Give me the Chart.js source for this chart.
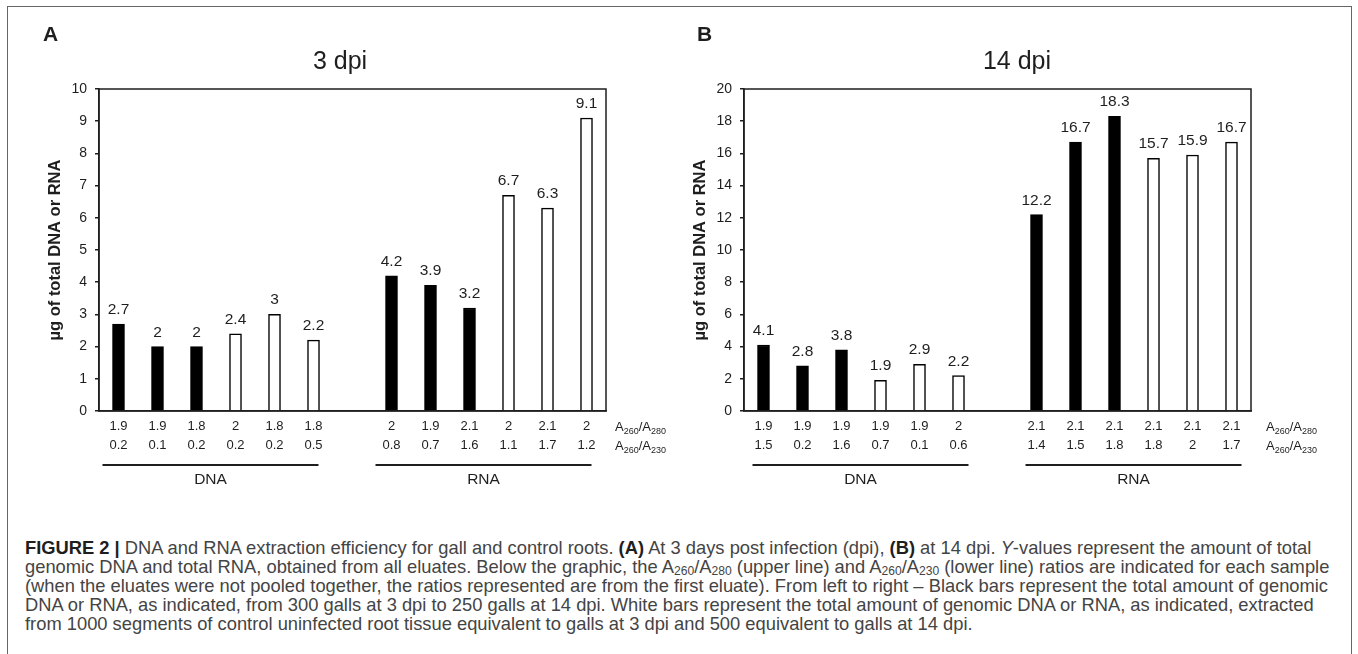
<!DOCTYPE html>
<html>
<head>
<meta charset="utf-8">
<script src="https://cdn.jsdelivr.net/npm/chart.js@4.4.0/dist/chart.umd.min.js"></script>
<style>
  html, body { margin: 0; padding: 0; background: #fff; }
  body { width: 1358px; height: 654px; position: relative; overflow: hidden; font-family: "Liberation Sans", Arial, sans-serif; }
  #frame { position: absolute; left: 7px; top: 6px; width: 1345px; height: 700px; border: 1.5px solid #666; box-sizing: border-box; }
  .panel { position: absolute; top: 0; }
  #panelA { left: 0; }
  #panelB { left: 679px; }
  #caption { position: absolute; left: 25px; top: 538px; font-size: 15px; line-height: 19px; color: #444; white-space: nowrap; }
  #caption b { color: #1e1e1e; }
  #caption sub { font-size: 0.66em; vertical-align: -0.2em; line-height: 0; }
</style>
</head>
<body>
<div id="frame"></div>
<div class="panel" id="panelA"><canvas id="chartA" width="679" height="510"></canvas></div>
<div class="panel" id="panelB"><canvas id="chartB" width="679" height="510"></canvas></div>
<div id="caption">
  <div><b>FIGURE 2 |</b> DNA and RNA extraction efficiency for gall and control roots. <b>(A)</b> At 3 days post infection (dpi), <b>(B)</b> at 14 dpi. <i>Y</i>-values represent the amount of total</div>
  <div id="capLine2">genomic DNA and total RNA, obtained from all eluates. Below the graphic, the A<sub>260</sub>/A<sub>280</sub> (upper line) and A<sub>260</sub>/A<sub>230</sub> (lower line) ratios are indicated for each sample</div>
  <div>(when the eluates were not pooled together, the ratios represented are from the first eluate). From left to right – Black bars represent the total amount of genomic</div>
  <div>DNA or RNA, as indicated, from 300 galls at 3 dpi to 250 galls at 14 dpi. White bars represent the total amount of genomic DNA or RNA, as indicated, extracted</div>
  <div>from 1000 segments of control uninfected root tissue equivalent to galls at 3 dpi and 500 equivalent to galls at 14 dpi.</div>
</div>
<script>
// sample type per slot ('' = empty gap slot between DNA and RNA)
const sampleKind = ['gall', 'gall', 'gall', 'ctrl', 'ctrl', 'ctrl', '', 'gall', 'gall', 'gall', 'ctrl', 'ctrl', 'ctrl'];
const groups = [
    {name: 'DNA', from: 0, to: 5},
    {name: 'RNA', from: 7, to: 12},
];

// 3 dpi
const values3 = [2.7, 2, 2, 2.4, 3, 2.2, null, 4.2, 3.9, 3.2, 6.7, 6.3, 9.1];
const r280_3 = ['1.9', '1.9', '1.8', '2', '1.8', '1.8', '', '2', '1.9', '2.1', '2', '2.1', '2'];
const r230_3 = ['0.2', '0.1', '0.2', '0.2', '0.2', '0.5', '', '0.8', '0.7', '1.6', '1.1', '1.7', '1.2'];
const yTicks3 = {max: 10, step: 1};

// 14 dpi
const values14 = [4.1, 2.8, 3.8, 1.9, 2.9, 2.2, null, 12.2, 16.7, 18.3, 15.7, 15.9, 16.7];
const r280_14 = ['1.9', '1.9', '1.9', '1.9', '1.9', '2', '', '2.1', '2.1', '2.1', '2.1', '2.1', '2.1'];
const r230_14 = ['1.5', '0.2', '1.6', '0.7', '0.1', '0.6', '', '1.4', '1.5', '1.8', '1.8', '2', '1.7'];
const yTicks14 = {max: 20, step: 2};

const FONT = '"Liberation Sans", Arial, sans-serif';
const INK = '#1e1e1e';

function drawRatioName(ctx, x, y, sub1, sub2) {
    const parts = [['A', 0], [sub1, 1], ['/A', 0], [sub2, 1]];
    ctx.textBaseline = 'alphabetic';
    ctx.textAlign = 'left';
    for (const [txt, isSub] of parts) {
        ctx.font = (isSub ? '9px ' : '13px ') + FONT;
        ctx.fillText(txt, x, y + (isSub ? 2.5 : 0));
        x += ctx.measureText(txt).width;
    }
}

const annotate = {
    id: 'annotate',
    afterDraw(chart, args, opts) {
        const {ctx, chartArea: a, scales: {x}} = chart;
        ctx.save();
        ctx.fillStyle = INK;
        ctx.strokeStyle = INK;

        // box round the plot
        ctx.lineWidth = 1.5;
        ctx.strokeRect(a.left, a.top, a.right - a.left, a.bottom - a.top);

        // value labels on bars
        ctx.font = '15.5px ' + FONT;
        ctx.textAlign = 'center';
        ctx.textBaseline = 'alphabetic';
        chart.getDatasetMeta(0).data.forEach((bar, i) => {
            const v = chart.data.datasets[0].data[i];
            if (v === null) return;
            ctx.fillText(String(v), bar.x, bar.y - 10);
        });

        // panel letter and title
        ctx.font = 'bold 21px ' + FONT;
        ctx.textAlign = 'left';
        ctx.fillText(opts.letter, opts.letterX, 41);
        ctx.font = '25px ' + FONT;
        ctx.textAlign = 'center';
        ctx.fillText(opts.title, opts.titleX, 69);

        // y axis title
        ctx.save();
        ctx.translate(opts.yTitleX, (a.top + a.bottom) / 2);
        ctx.rotate(-Math.PI / 2);
        ctx.font = 'bold 16.5px ' + FONT;
        ctx.textBaseline = 'middle';
        ctx.fillText('µg of total DNA or RNA', 0, 0);
        ctx.restore();

        // ratio row names
        drawRatioName(ctx, a.right + opts.ratioGap, a.bottom + 20, '260', '280');
        drawRatioName(ctx, a.right + opts.ratioGap, a.bottom + 39, '260', '230');

        // group lines and names
        ctx.lineWidth = 2;
        ctx.font = '15.5px ' + FONT;
        ctx.textAlign = 'center';
        ctx.textBaseline = 'middle';
        for (const g of groups) {
            const x0 = x.getPixelForValue(g.from) - opts.lineIn;
            const x1 = x.getPixelForValue(g.to) + opts.lineOut;
            ctx.beginPath();
            ctx.moveTo(x0, a.bottom + 54);
            ctx.lineTo(x1, a.bottom + 54);
            ctx.stroke();
            ctx.fillText(g.name, (x0 + x1) / 2, a.bottom + 69);
        }
        ctx.restore();
    }
};

function makeChart(id, values, r280, r230, yTicks, opts) {
    const labels = r280.map((v, i) => [v, r230[i]]);
    return new Chart(document.getElementById(id).getContext('2d'), {
        type: 'bar',
        data: {
            labels: labels,
            datasets: [{
                data: values,
                backgroundColor: sampleKind.map(k => k === 'gall' ? '#000' : '#fff'),
                borderColor: '#000',
                borderWidth: 1.5,
                barThickness: 12,
            }]
        },
        options: {
            responsive: false,
            animation: false,
            layout: {padding: {top: 89, right: opts.padRight, left: 0, bottom: 0}},
            plugins: {
                legend: {display: false},
                tooltip: {enabled: false},
                annotate: opts,
            },
            scales: {
                x: {
                    grid: {display: false, drawTicks: false},
                    border: {display: true, color: INK, width: 1.5},
                    ticks: {
                        autoSkip: false, maxRotation: 0, padding: 5.5, color: INK,
                        font: {family: FONT, size: 13, lineHeight: '19px'},
                    },
                    afterFit(scale) { scale.height = 99; },
                },
                y: {
                    min: 0, max: yTicks.max,
                    ticks: {stepSize: yTicks.step, padding: 8, color: INK, font: {family: FONT, size: 14}},
                    grid: {display: true, drawOnChartArea: false, drawTicks: true, tickLength: 4, color: INK, lineWidth: 1.5},
                    border: {display: true, color: INK, width: 1.5},
                    afterFit(scale) { scale.width = opts.yWidth; },
                },
            },
        },
        plugins: [annotate],
    });
}

makeChart('chartA', values3, r280_3, r230_3, yTicks3,
    {letter: 'A', letterX: 43, title: '3 dpi', titleX: 340, yTitleX: 55, yWidth: 99, padRight: 73,
     ratioGap: 9, lineIn: 16, lineOut: 5});
makeChart('chartB', values14, r280_14, r230_14, yTicks14,
    {letter: 'B', letterX: 18, title: '14 dpi', titleX: 338, yTitleX: 21, yWidth: 65, padRight: 107,
     ratioGap: 15, lineIn: 11, lineOut: 10});

// size the caption so its longest line spans the same width as in the figure
const cap = document.getElementById('caption');
const line2 = document.getElementById('capLine2');
const span = document.createElement('span');
span.innerHTML = line2.innerHTML;
line2.innerHTML = '';
line2.appendChild(span);
const w = span.getBoundingClientRect().width;
cap.style.fontSize = (15 * 1305 / w).toFixed(2) + 'px';
</script>
</body>
</html>
